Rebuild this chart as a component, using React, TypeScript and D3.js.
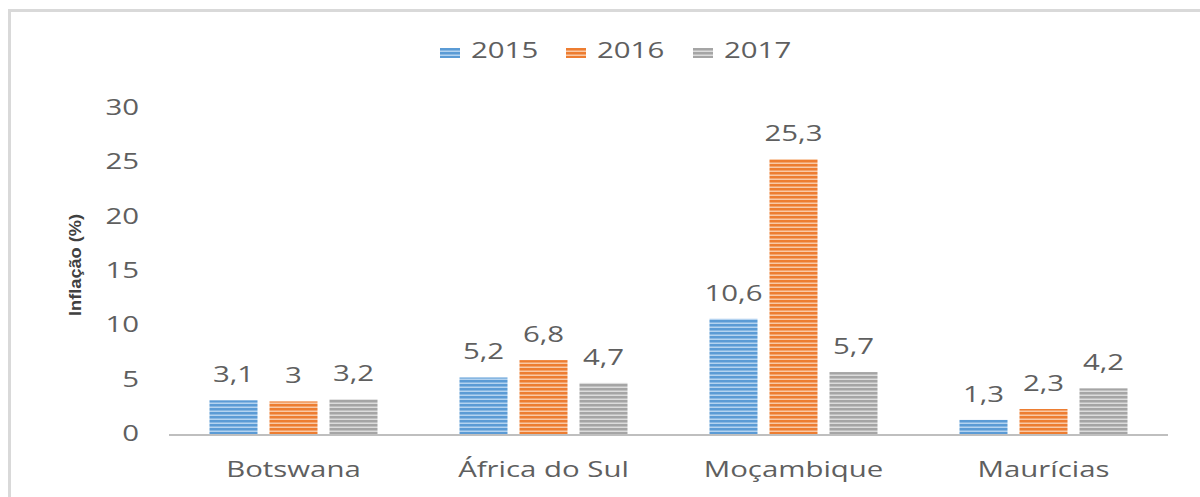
import React from "react";
import * as d3 from "d3";

const categories = ["Botswana", "África do Sul", "Moçambique", "Maurícias"];
const seriesNames = ["2015", "2016", "2017"];
const values2015 = [3.1, 5.2, 10.6, 1.3];
const values2016 = [3, 6.8, 25.3, 2.3];
const values2017 = [3.2, 4.7, 5.7, 4.2];
const yTicks = [0, 5, 10, 15, 20, 25, 30];
const yTitle = "Inflação (%)";

const seriesValues = [values2015, values2016, values2017];
const baseColors = ["#5b9bd5", "#ed7d31", "#a5a5a5"];
const lightColors = ["#b4d3f0", "#f9c9a6", "#dcdcdc"];

const W = 1200;
const H = 497;
const SX = 1.4;
const FONT = "'Open Sans', 'Noto Sans', sans-serif";
const TXT = "#5f5f5f";

export default function App() {
  const x0 = d3.scaleBand<string>().domain(categories).range([168.5, 1168.5]).paddingInner(0).paddingOuter(0);
  const x1 = d3.scaleBand<string>().domain(seriesNames).range([0, 180]).paddingInner(0.2).paddingOuter(0.1);
  const y = d3.scaleLinear().domain([0, 30]).range([434, 108]);
  const fmt = (v: number) => String(v).replace(".", ",");

  const legendX = [440, 566, 693];

  return (
    <svg width={W} height={H} style={{ position: "absolute", left: 0, top: 0, background: "#fff" }}>
      <defs>
        {seriesNames.map((s, i) => (
          <pattern key={s} id={`stripe${i}`} patternUnits="userSpaceOnUse" width={8} height={4}>
            <rect x={0} y={0} width={8} height={4} fill={baseColors[i]} />
            <rect x={0} y={2.5} width={8} height={1.5} fill={lightColors[i]} />
          </pattern>
        ))}
      </defs>
      <rect x={0} y={0} width={W} height={H} fill="#fff" />
      <rect x={9.5} y={10.5} width={1400} height={700} fill="none" stroke="#d9d9d9" strokeWidth={3} />

      {/* legend */}
      {seriesNames.map((s, i) => (
        <g key={s}>
          <rect x={legendX[i]} y={48} width={20} height={10} fill={`url(#stripe${i})`} />
          <text
            transform={`translate(${legendX[i] + 31},58) scale(${SX},1)`}
            fontFamily={FONT}
            fontSize={21}
            fill={TXT}
          >
            {s}
          </text>
        </g>
      ))}

      {/* y ticks */}
      {yTicks.map((t) => (
        <text
          key={t}
          transform={`translate(139,${y(t) + 7}) scale(${SX},1)`}
          textAnchor="end"
          fontFamily={FONT}
          fontSize={21}
          fill={TXT}
        >
          {t}
        </text>
      ))}

      {/* y title */}
      <text
        transform={`translate(81,265) rotate(-90)`}
        textAnchor="middle"
        fontFamily="'Liberation Sans Narrow', 'Arial Narrow', 'Liberation Sans', sans-serif"
        fontWeight="bold"
        fontSize={17}
        fill="#404040"
        textLength={102}
        lengthAdjust="spacingAndGlyphs"
      >
        {yTitle}
      </text>

      {/* bars */}
      {categories.map((c, ci) => {
        const gx = (x0(c) as number) + x0.bandwidth() / 2 - 90;
        return (
          <g key={c} transform={`translate(${gx},0)`}>
            {seriesNames.map((s, si) => {
              const v = seriesValues[si][ci];
              const bx = x1(s) as number;
              const bw = x1.bandwidth();
              return (
                <g key={s}>
                  <rect x={bx} y={y(v)} width={bw} height={y(0) - y(v)} fill={`url(#stripe${si})`} />
                  <text
                    transform={`translate(${bx + bw / 2},${y(v) - 18}) scale(${SX},1)`}
                    textAnchor="middle"
                    fontFamily={FONT}
                    fontSize={21}
                    fill={TXT}
                  >
                    {fmt(v)}
                  </text>
                </g>
              );
            })}
          </g>
        );
      })}

      {/* x axis line */}
      <line x1={169} x2={1168} y1={435} y2={435} stroke="#bfbfbf" strokeWidth={2} />

      {/* category labels */}
      {categories.map((c) => (
        <text
          key={c}
          transform={`translate(${(x0(c) as number) + x0.bandwidth() / 2},477) scale(${SX},1)`}
          textAnchor="middle"
          fontFamily={FONT}
          fontSize={21}
          fill={TXT}
        >
          {c}
        </text>
      ))}
    </svg>
  );
}
